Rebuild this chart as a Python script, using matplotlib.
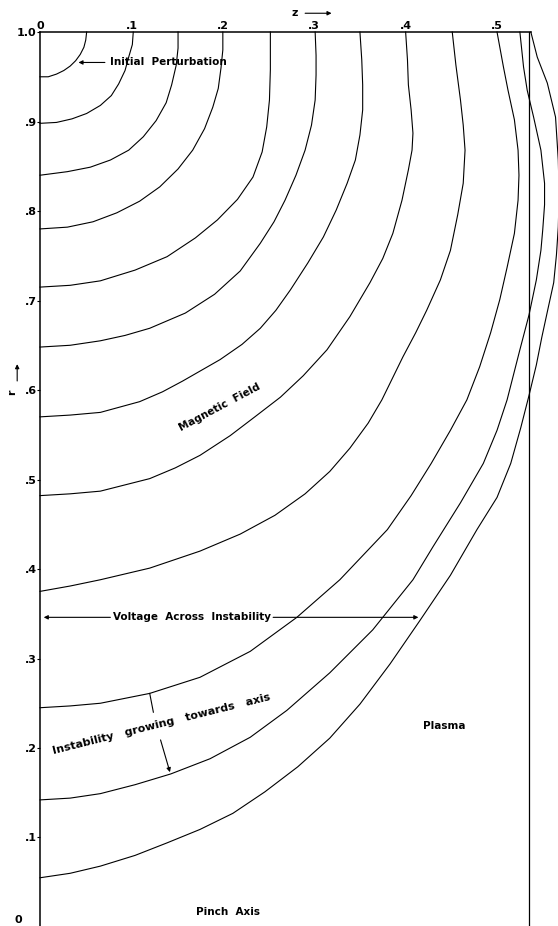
import matplotlib.pyplot as plt

# field lines: z along the pinch, r the radius
z1 = [0, 0.009, 0.018, 0.026, 0.033, 0.039, 0.044, 0.048, 0.050, 0.051]
r1 = [0.950, 0.950, 0.953, 0.957, 0.962, 0.968, 0.975, 0.983, 0.991, 1.0]

z2 = [0, 0.018, 0.035, 0.051, 0.066, 0.078, 0.086, 0.093, 0.097, 0.101, 0.102]
r2 = [0.898, 0.899, 0.903, 0.909, 0.918, 0.929, 0.942, 0.957, 0.972, 0.986, 1.0]

z3 = [0, 0.030, 0.055, 0.077, 0.097, 0.113, 0.127, 0.138, 0.144, 0.149, 0.151, 0.151]
r3 = [0.840, 0.844, 0.849, 0.857, 0.868, 0.883, 0.901, 0.921, 0.941, 0.963, 0.982, 1.0]

z4 = [0, 0.030, 0.058, 0.084, 0.109, 0.131, 0.151, 0.167, 0.180, 0.189, 0.195, 0.198,
      0.200, 0.200]
r4 = [0.780, 0.782, 0.788, 0.798, 0.811, 0.827, 0.847, 0.868, 0.892, 0.916, 0.937, 0.960,
      0.980, 1.0]

z5 = [0, 0.033, 0.066, 0.104, 0.139, 0.170, 0.194, 0.216, 0.233, 0.243, 0.248, 0.251,
      0.252, 0.252]
r5 = [0.715, 0.717, 0.722, 0.734, 0.749, 0.770, 0.790, 0.813, 0.838, 0.866, 0.894, 0.924,
      0.958, 1.0]

z6 = [0, 0.033, 0.066, 0.093, 0.120, 0.159, 0.191, 0.219, 0.241, 0.256, 0.268, 0.280,
      0.290, 0.297, 0.301, 0.302, 0.302, 0.301]
r6 = [0.648, 0.650, 0.655, 0.661, 0.669, 0.686, 0.707, 0.733, 0.764, 0.788, 0.812, 0.840,
      0.868, 0.896, 0.924, 0.952, 0.974, 1.0]

z7 = [0, 0.033, 0.066, 0.109, 0.134, 0.156, 0.197, 0.221, 0.241, 0.258, 0.274, 0.293,
      0.310, 0.324, 0.336, 0.345, 0.350, 0.353, 0.353, 0.352, 0.350]
r7 = [0.570, 0.572, 0.575, 0.587, 0.598, 0.610, 0.634, 0.651, 0.669, 0.689, 0.712, 0.742,
      0.771, 0.801, 0.831, 0.857, 0.885, 0.913, 0.941, 0.969, 1.0]

z8 = [0, 0.033, 0.066, 0.120, 0.148, 0.175, 0.208, 0.235, 0.263, 0.288, 0.314, 0.339,
      0.361, 0.375, 0.386, 0.396, 0.403, 0.407, 0.408, 0.406, 0.403, 0.402, 0.400]
r8 = [0.482, 0.484, 0.487, 0.501, 0.513, 0.527, 0.549, 0.570, 0.592, 0.616, 0.645, 0.682,
      0.720, 0.747, 0.775, 0.812, 0.846, 0.868, 0.887, 0.913, 0.941, 0.969, 1.0]

z9 = [0, 0.033, 0.066, 0.120, 0.175, 0.219, 0.257, 0.290, 0.317, 0.339, 0.359, 0.374,
      0.397, 0.411, 0.423, 0.438, 0.449, 0.457, 0.463, 0.465, 0.463, 0.460, 0.455, 0.451]
r9 = [0.375, 0.381, 0.388, 0.401, 0.420, 0.439, 0.460, 0.484, 0.509, 0.535, 0.563, 0.589,
      0.637, 0.664, 0.689, 0.723, 0.756, 0.796, 0.831, 0.868, 0.896, 0.924, 0.963, 1.0]

z10 = [0, 0.033, 0.066, 0.120, 0.175, 0.230, 0.281, 0.328, 0.380, 0.406, 0.428, 0.449,
       0.467, 0.481, 0.493, 0.503, 0.511, 0.519, 0.523, 0.524, 0.523, 0.519, 0.512, 0.507,
       0.500]
r10 = [0.245, 0.247, 0.250, 0.261, 0.279, 0.308, 0.346, 0.388, 0.444, 0.482, 0.518, 0.555,
       0.589, 0.626, 0.664, 0.701, 0.737, 0.775, 0.812, 0.840, 0.868, 0.902, 0.935, 0.961,
       1.0]

z11 = [0, 0.033, 0.066, 0.104, 0.143, 0.186, 0.230, 0.270, 0.317, 0.364, 0.408, 0.430,
       0.460, 0.485, 0.500, 0.511, 0.525, 0.535, 0.543, 0.548, 0.550, 0.552, 0.552, 0.548,
       0.540, 0.533, 0.529, 0.525]
r11 = [0.142, 0.144, 0.149, 0.159, 0.171, 0.188, 0.212, 0.242, 0.284, 0.332, 0.388, 0.425,
       0.474, 0.518, 0.555, 0.589, 0.645, 0.684, 0.723, 0.756, 0.779, 0.807, 0.831, 0.868,
       0.905, 0.935, 0.961, 1.0]

z12 = [0, 0.033, 0.066, 0.104, 0.139, 0.175, 0.211, 0.246, 0.282, 0.317, 0.350, 0.383,
       0.416, 0.449, 0.478, 0.500, 0.515, 0.526, 0.535, 0.543, 0.549, 0.556, 0.562, 0.565,
       0.567, 0.568, 0.567, 0.564, 0.555, 0.544, 0.537]
r12 = [0.055, 0.060, 0.068, 0.080, 0.094, 0.109, 0.127, 0.151, 0.179, 0.211, 0.249, 0.294,
       0.343, 0.393, 0.444, 0.480, 0.518, 0.558, 0.594, 0.628, 0.659, 0.692, 0.720, 0.751,
       0.782, 0.818, 0.857, 0.905, 0.943, 0.972, 1.0]

curves = [(z1, r1), (z2, r2), (z3, r3), (z4, r4), (z5, r5), (z6, r6),
          (z7, r7), (z8, r8), (z9, r9), (z10, r10), (z11, r11), (z12, r12)]

plasma_z = 0.535     # plasma boundary
top_end_z = 0.537    # where the r = 1 line stops

z_ticks = [0, 0.1, 0.2, 0.3, 0.4, 0.5]
z_tick_labels = ['0', '.1', '.2', '.3', '.4', '.5']
r_ticks = [0.1, 0.2, 0.3, 0.4, 0.5, 0.6, 0.7, 0.8, 0.9, 1.0]
r_tick_labels = ['.1', '.2', '.3', '.4', '.5', '.6', '.7', '.8', '.9', '1.0']

# arrows in the drawing
voltage_r = 0.346
voltage_z_end = 0.417
growing_from = (0.120, 0.261)   # on the 0.245 line
growing_to = (0.143, 0.170)     # on the 0.142 line

plt.rcParams['font.family'] = ['DejaVu Sans']
plt.rcParams['font.weight'] = 'bold'

fig = plt.figure(figsize=(5.58, 9.26), dpi=100)
ax = fig.add_axes([0, 0, 1, 1])
ax.set_xlim(-0.0438, 0.5667)
ax.set_ylim(0.0011, 1.0358)

for z, r in curves:
    ax.plot(z, r, color='black', lw=0.8, solid_joinstyle='round')

# plasma boundary
ax.plot([plasma_z, plasma_z], [0, 1.0], color='black', lw=0.9)

# the two axes: z = 0 (left) and r = 1 (top)
for side in ['right', 'bottom']:
    ax.spines[side].set_visible(False)
ax.spines['left'].set_position(('data', 0))
ax.spines['left'].set_bounds(0, 1.0)
ax.spines['top'].set_position(('data', 1.0))
ax.spines['top'].set_bounds(0, top_end_z)
for side in ['left', 'top']:
    ax.spines[side].set_linewidth(1.1)

ax.xaxis.tick_top()
ax.set_xticks(z_ticks, z_tick_labels)
ax.set_yticks(r_ticks, r_tick_labels)
ax.tick_params(axis='x', length=0, pad=1, labelsize=8)
ax.tick_params(axis='y', direction='out', length=2, width=0.8, pad=0.5, labelsize=8)
ax.text(-0.020, 0.008, '0', ha='right', va='center', fontsize=8)

# axis names with arrows
ax.text(0.279, 1.021, 'z', ha='center', va='center', fontsize=8)
ax.annotate('', xy=(0.322, 1.021), xytext=(0.287, 1.021),
            arrowprops=dict(arrowstyle='-|>', color='black', lw=0.8, mutation_scale=6))
ax.text(-0.031, 0.598, 'r', ha='center', va='center', fontsize=8, rotation=90)
ax.annotate('', xy=(-0.025, 0.632), xytext=(-0.025, 0.607),
            arrowprops=dict(arrowstyle='-|>', color='black', lw=0.8, mutation_scale=6))

# labels
ax.annotate('', xy=(0.039, 0.966), xytext=(0.074, 0.966),
            arrowprops=dict(arrowstyle='-|>', color='black', lw=0.8, mutation_scale=6))
ax.text(0.077, 0.966, 'Initial  Perturbation', ha='left', va='center', fontsize=7.5)

ax.text(0.197, 0.581, 'Magnetic  Field', ha='center', va='center', fontsize=7.5, rotation=28)

ax.annotate('', xy=(0.001, voltage_r), xytext=(0.080, voltage_r),
            arrowprops=dict(arrowstyle='-|>', color='black', lw=0.8, mutation_scale=6))
ax.annotate('', xy=(voltage_z_end, voltage_r), xytext=(0.252, voltage_r),
            arrowprops=dict(arrowstyle='-|>', color='black', lw=0.8, mutation_scale=6))
ax.text(0.166, voltage_r, 'Voltage  Across  Instability', ha='center', va='center', fontsize=7.5)

ax.plot([growing_from[0], 0.124], [growing_from[1], 0.240], color='black', lw=0.8)
ax.annotate('', xy=growing_to, xytext=(0.131, 0.212),
            arrowprops=dict(arrowstyle='-|>', color='black', lw=0.8, mutation_scale=6))
ax.text(0.133, 0.227, 'Instability   growing   towards   axis', ha='center', va='center',
        fontsize=8, rotation=14)

ax.text(0.442, 0.225, 'Plasma', ha='center', va='center', fontsize=7.5)
ax.text(0.206, 0.017, 'Pinch  Axis', ha='center', va='center', fontsize=7.5)

fig.savefig('out.png', dpi=100, facecolor='white')
